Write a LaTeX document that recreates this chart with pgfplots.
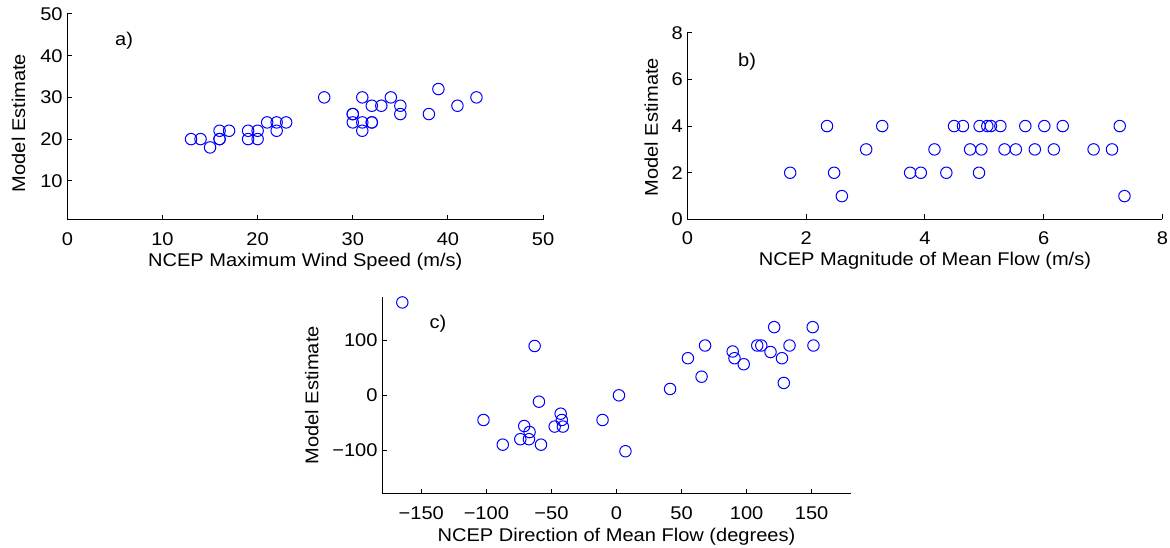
\documentclass[border=0pt]{standalone}
\usepackage{fontspec}
\setmainfont{Liberation Sans}
\usepackage{graphicx}
\usepackage{pgfplots}
\pgfplotsset{compat=1.18}
\definecolor{mblue}{RGB}{0,0,255}
\newcommand{\ff}{\fontsize{13.8pt}{16pt}\selectfont}
\newcommand{\s}[1]{\scalebox{1.09}[1]{#1}}
\pgfplotsset{
  mystyle/.style={
    scale only axis,
    anchor=south west,
    axis lines*=left,
    axis line style={-, black, line width=0.75pt},
    tick style={black, line width=0.75pt},
    major tick length=3.75pt,
    tick align=inside,
    font=\ff,
    tick label style={font=\ff},
    label style={font=\ff},
    xticklabel style={anchor=base, yshift=-19pt},
    clip=false,
  },
  pts/.style={only marks, mark=o, mark size=4.3pt, mblue, mark options={solid, line width=0.75pt, fill=none}},
}
\begin{document}
\begin{tikzpicture}
\useasboundingbox (0,0) rectangle (877.5pt,411pt);
% ---------- a ----------
\begin{axis}[mystyle,
  at={(50.5pt,246pt)}, width=356.8pt, height=154.5pt,
  xmin=0, xmax=50, ymin=0.6, ymax=50,
  xtick={0,10,20,30,40,50}, ytick={10,20,30,40,50},
  xticklabels={\s{0},\s{10},\s{20},\s{30},\s{40},\s{50}},
  yticklabels={\s{10},\s{20},\s{30},\s{40},\s{50}},
  xlabel={\s{NCEP Maximum Wind Speed (m/s)}},
  ylabel={\s{Model Estimate}},
  xlabel style={at={(axis description cs:0.5,-0.228)}, anchor=base},
  ylabel style={at={(axis description cs:-0.0889,0.471)}, anchor=base, rotate=0},
]
\addplot[pts] coordinates {
(13,20) (14,20) (15,18) (16,22) (16,20) (16,20) (17,22) (19,22) (19,20)
(20,22) (20,20) (21,24) (22,24) (22,22) (23,24) (27,30) (30,26) (30,26)
(30,24) (31,30) (31,24) (31,22) (32,28) (32,24) (32,24) (33,28) (34,30)
(35,28) (35,26) (38,26) (39,32) (41,28) (43,30)};
\node[anchor=west, inner sep=0pt, font=\ff] at (axis cs:5,43.7) {\s{a)}};
\end{axis}
% ---------- b ----------
\begin{axis}[mystyle,
  at={(515.6pt,246.4pt)}, width=356.25pt, height=140.1pt,
  xmin=0, xmax=8, ymin=0, ymax=8,
  xtick={0,2,4,6,8}, ytick={0,2,4,6,8},
  xticklabels={\s{0},\s{2},\s{4},\s{6},\s{8}},
  yticklabels={\s{0},\s{2},\s{4},\s{6},\s{8}},
  xlabel={\s{NCEP Magnitude of Mean Flow (m/s)}},
  ylabel={\s{Model Estimate}},
  xlabel style={at={(axis description cs:0.5,-0.246)}, anchor=base},
  ylabel style={at={(axis description cs:-0.0625,0.494)}, anchor=base, rotate=0},
]
\addplot[pts] coordinates {
(1.73,2) (2.35,4) (2.47,2) (2.60,1) (3.01,3) (3.28,4) (3.75,2) (3.93,2)
(4.16,3) (4.36,2) (4.49,4) (4.64,4) (4.76,3) (4.91,2) (4.92,4) (4.95,3)
(5.05,4) (5.11,4) (5.27,4) (5.34,3) (5.53,3) (5.69,4) (5.85,3) (6.01,4)
(6.17,3) (6.32,4) (6.84,3) (7.15,3) (7.28,4) (7.36,1)};
\node[anchor=west, inner sep=0pt, font=\ff] at (axis cs:0.85,6.76) {\s{b)}};
\end{axis}
% ---------- c ----------
\begin{axis}[mystyle,
  at={(286.7pt,40.5pt)}, width=351.3pt, height=148pt,
  xmin=-180, xmax=180, ymin=-180, ymax=180,
  xtick={-150,-100,-50,0,50,100,150},
  xticklabels={\s{−150},\s{−100},\s{−50},\s{0},\s{50},\s{100},\s{150}},
  ytick={-100,0,100},
  yticklabels={\s{−100},\s{0},\s{100}},
  xlabel={\s{NCEP Direction of Mean Flow (degrees)}},
  ylabel={\s{Model Estimate}},
  xlabel style={at={(axis description cs:0.5,-0.243)}, anchor=base},
  ylabel style={at={(axis description cs:-0.1366,0.5)}, anchor=base, rotate=0},
]
\addplot[pts] coordinates {
(-164.6,169.5) (-62.9,90) (-102.2,-45) (-87.4,-90) (-70.9,-56) (-73.9,-80)
(-66.8,-67) (-67.3,-80) (-59.6,-11.6) (-58,-90) (-47.5,-57) (-42.9,-33.5)
(-42,-45) (-41.2,-57) (-10.7,-45) (1.9,0) (6.9,-102) (41.2,11.6)
(54.9,67.7) (65.4,34) (68.1,90.9) (89.3,80) (90.7,67.7) (97.8,56.7)
(108.2,90.9) (111.3,90.9) (118.4,79) (121.2,124.4) (127.2,67.7)
(128.6,22.6) (133,90.9) (150.8,124.4) (151.4,90.9)};
\node[anchor=west, inner sep=0pt, font=\ff] at (axis cs:-143.9,131.5) {\s{c)}};
\end{axis}
\end{tikzpicture}
\end{document}
